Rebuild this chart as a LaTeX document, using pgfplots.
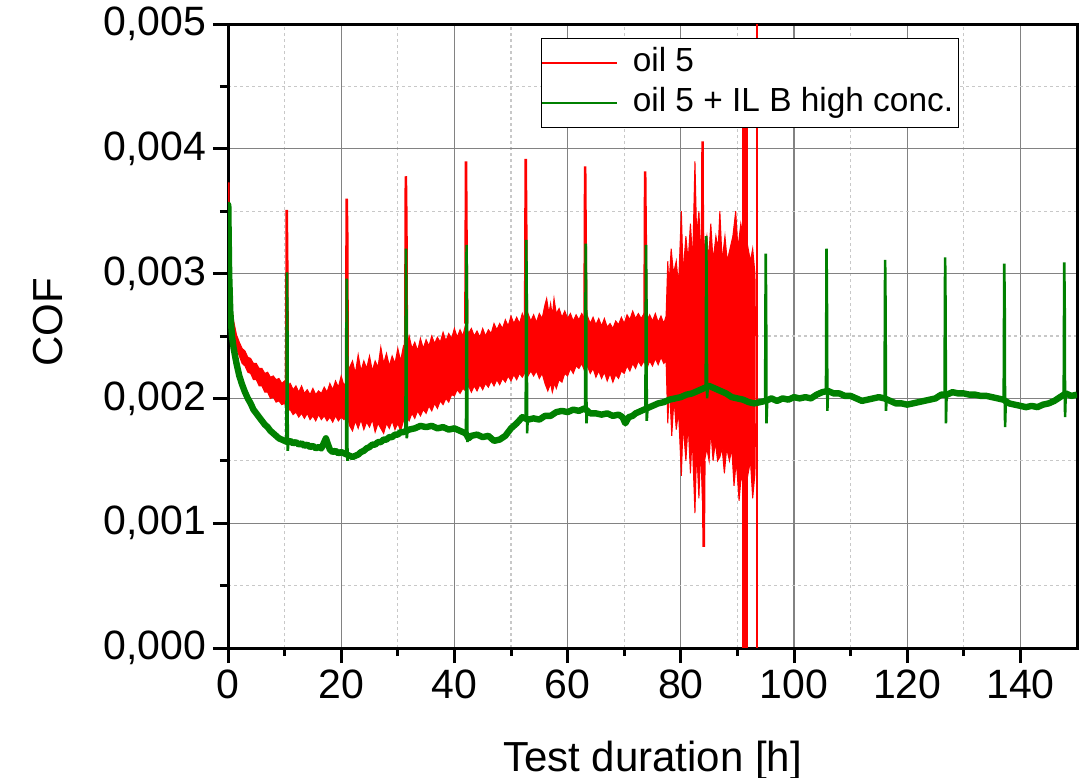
\documentclass[border=0pt]{standalone}
\usepackage{fontspec}
\setmainfont{Liberation Sans}
\usepackage{pgfplots}
\pgfplotsset{compat=1.18}
\usepgfplotslibrary{fillbetween}
\definecolor{cred}{RGB}{255,0,0}
\definecolor{cgreen}{RGB}{0,128,0}
\definecolor{majgrid}{RGB}{130,130,130}
\definecolor{mingrid}{RGB}{200,200,200}
\begin{document}
\begin{tikzpicture}
\begin{axis}[
  at={(0,0)}, anchor=south west,
  scale only axis, width=424.5bp, height=312bp,
  xmin=0, xmax=150, ymin=0, ymax=0.005,
  xtick={0,20,40,60,80,100,120,140}, minor x tick num=1,
  xticklabels={0,20,40,60,80,100,120,140},
  ytick={0,0.001,0.002,0.003,0.004,0.005}, minor y tick num=1,
  yticklabels={{0,000},{0,001},{0,002},{0,003},{0,004},{0,005}},
  scaled y ticks=false,
  tick align=outside, xtick pos=bottom, ytick pos=left,
  major tick length=7.5bp, minor tick length=4bp,
  every tick/.style={black, line width=1.5bp},
  axis line style={line width=1.5bp},
  grid=both,
  major grid style={majgrid, line width=0.6bp},
  minor grid style={mingrid, line width=0.6bp, dash pattern=on 1.5bp off 1.5bp},
  tick label style={font=\fontsize{20.5bp}{24bp}\selectfont},
  xlabel={Test duration [h]}, ylabel={COF},
  xlabel style={font=\fontsize{21bp}{25bp}\selectfont, at={(axis description cs:0.5,-0.1987)}, anchor=base},
  ylabel style={font=\fontsize{21bp}{25bp}\selectfont, at={(axis description cs:-0.1955,0.522)}, anchor=base},
  legend style={at={(axis description cs:0.3687,0.9776)}, anchor=north west, draw=black, line width=0.6bp, fill=white,
    font=\fontsize{16.7bp}{20bp}\selectfont, inner xsep=0bp, inner ysep=2.25bp, row sep=0bp,
    nodes={inner xsep=2.5bp, inner ysep=2bp, text height=12.3bp, text depth=3.7bp},
    /tikz/every odd column/.append style={column sep=5bp}},
  legend cell align=left,
  legend image code/.code={\draw[#1] (0bp,0bp) -- (37.5bp,0bp);},
]
% ---- oil 5 : upper envelope of the noise band
\addplot[name path=ru, cred, line width=0.5bp, forget plot] coordinates {
(0,0.0030)(0.2,0.0031)(0.35,0.0029)(0.6,0.00275)(1,0.00262)(1.5,0.00251)(2,0.00245)(2.5,0.0024)(3,0.00238)(3.5,0.00233)(4,0.00232)(4.5,0.00228)(5,0.00228)(5.5,0.00224)(6,0.00224)(6.5,0.0022)(7,0.00221)(7.5,0.00217)(8,0.00218)(8.5,0.00215)(9,0.00216)(9.5,0.00212)(10,0.00214)(10.5,0.0021)(11,0.00212)(11.5,0.00207)(12,0.0021)(12.5,0.00205)(13,0.0021)(13.5,0.00204)(14,0.00207)(14.5,0.00203)(15,0.00208)(15.5,0.00203)(16,0.00206)(16.5,0.00204)(17,0.00209)(17.5,0.00205)(18,0.00212)(18.5,0.00207)(19,0.00214)(19.5,0.00209)(20,0.00218)(20.5,0.0021)(21,0.00215)(21.5,0.00225)(22,0.0023)(22.5,0.0022)(23,0.00235)(23.5,0.00222)(24,0.0023)(24.5,0.00224)(25,0.00234)(25.5,0.00222)(26,0.0023)(26.5,0.00225)(27,0.00241)(27.5,0.00228)(28,0.00236)(28.5,0.00226)(29,0.00234)(29.5,0.00228)(30,0.0024)(30.5,0.0023)(31,0.00242)(31.5,0.00238)(32,0.0025)(32.5,0.0024)(33,0.00245)(33.5,0.00238)(34,0.00248)(34.5,0.0024)(35,0.00247)(35.5,0.00242)(36,0.0025)(36.5,0.00244)(37,0.00249)(37.5,0.00245)(38,0.00253)(38.5,0.00246)(39,0.00252)(39.5,0.00248)(40,0.00256)(40.5,0.00249)(41,0.00255)(41.5,0.0025)(42,0.0026)(42.5,0.00252)(43,0.00256)(43.5,0.0025)(44,0.00254)(44.5,0.00249)(45,0.00256)(45.5,0.0025)(46,0.00255)(46.5,0.00252)(47,0.0026)(47.5,0.00255)(48,0.0026)(48.5,0.00256)(49,0.00263)(49.5,0.00258)(50,0.00266)(50.5,0.0026)(51,0.00265)(51.5,0.0026)(52,0.00268)(52.5,0.00262)(53,0.00268)(53.5,0.00262)(54,0.00267)(54.5,0.00261)(55,0.00268)(55.5,0.00264)(56,0.00275)(56.3,0.0028)(56.7,0.00268)(57,0.00276)(57.3,0.00266)(57.6,0.0028)(58,0.00268)(58.5,0.00272)(59,0.00265)(59.5,0.0027)(60,0.00264)(60.5,0.00268)(61,0.00262)(61.5,0.00267)(62,0.00263)(62.5,0.00268)(63,0.00264)(63.5,0.00266)(64,0.0026)(64.5,0.00265)(65,0.00259)(65.5,0.00264)(66,0.00258)(66.5,0.00264)(67,0.00257)(67.5,0.0026)(68,0.00256)(68.5,0.00262)(69,0.00259)(69.5,0.00265)(70,0.0026)(70.5,0.00267)(71,0.00263)(71.5,0.0027)(72,0.00264)(72.5,0.00268)(73,0.00264)(73.5,0.00268)(74,0.00262)(74.5,0.00267)(75,0.00262)(75.5,0.00268)(76,0.00261)(76.5,0.00266)(77,0.0026)(77.4,0.00266)
(77.7,0.0031)(77.9,0.0029)(78.3,0.0032)(78.7,0.003)(79.2,0.0031)(79.6,0.0029)(80.1,0.0035)(80.4,0.003)(80.9,0.0033)(81.3,0.0031)(81.7,0.0034)(82.1,0.0031)(82.5,0.0039)(82.8,0.0033)(83.2,0.0035)(83.5,0.0032)(83.9,0.0034)(84.2,0.0032)(84.6,0.0033)(84.9,0.0031)(85.3,0.0034)(85.7,0.0031)(86.2,0.0033)(86.6,0.0032)(86.9,0.0035)(87.3,0.0031)(87.8,0.0033)(88.2,0.0031)(88.7,0.0032)(89.2,0.0033)(89.7,0.0035)(90.1,0.0032)(90.6,0.0034)(91,0.0033)(91.5,0.0033)(91.9,0.0032)(92.3,0.0031)(92.7,0.0032)(93.1,0.003)(93.2,0.0025)
};
% ---- oil 5 : lower envelope of the noise band
\addplot[name path=rl, cred, line width=0.5bp, forget plot] coordinates {
(0,0.0029)(0.2,0.0029)(0.35,0.00275)(0.6,0.0026)(1,0.0025)(1.5,0.0024)(2,0.00234)(2.5,0.00228)(3,0.00226)(3.5,0.00221)(4,0.0022)(4.5,0.00215)(5,0.00215)(5.5,0.0021)(6,0.0021)(6.5,0.00205)(7,0.00205)(7.5,0.002)(8,0.00201)(8.5,0.00197)(9,0.00198)(9.5,0.00195)(10,0.00196)(10.5,0.0019)(11,0.00191)(11.5,0.00187)(12,0.00189)(12.5,0.00185)(13,0.00188)(13.5,0.00184)(14,0.00188)(14.5,0.00183)(15,0.00186)(15.5,0.00182)(16,0.00187)(16.5,0.00183)(17,0.00186)(17.5,0.00182)(18,0.00185)(18.5,0.00181)(19,0.00186)(19.5,0.00182)(20,0.00185)(20.5,0.00183)(21,0.00187)(21.5,0.00178)(22,0.00174)(22.5,0.00182)(23,0.00176)(23.5,0.00183)(24,0.00175)(24.5,0.00181)(25,0.00177)(25.5,0.00183)(26,0.00173)(26.5,0.0018)(27,0.00176)(27.5,0.00172)(28,0.0018)(28.5,0.00176)(29,0.00182)(29.5,0.00175)(30,0.0018)(30.5,0.00174)(31,0.00182)(31.5,0.00186)(32,0.00182)(32.5,0.00188)(33,0.00184)(33.5,0.0019)(34,0.00186)(34.5,0.00191)(35,0.00188)(35.5,0.00194)(36,0.0019)(36.5,0.00196)(37,0.00192)(37.5,0.00198)(38,0.00195)(38.5,0.002)(39,0.00197)(39.5,0.00203)(40,0.00202)(40.5,0.00207)(41,0.00204)(41.5,0.00208)(42,0.00206)(42.5,0.0021)(43,0.00205)(43.5,0.0021)(44,0.00206)(44.5,0.00211)(45,0.00207)(45.5,0.00212)(46,0.00209)(46.5,0.00214)(47,0.0021)(47.5,0.00215)(48,0.00211)(48.5,0.00216)(49,0.00213)(49.5,0.00218)(50,0.00214)(50.5,0.00219)(51,0.00215)(51.5,0.0022)(52,0.00217)(52.5,0.00221)(53,0.00218)(53.5,0.00222)(54,0.00218)(54.5,0.00222)(55,0.00216)(55.5,0.0022)(56,0.00212)(56.5,0.00206)(57,0.00212)(57.3,0.00205)(57.7,0.00212)(58,0.00208)(58.5,0.00215)(59,0.00213)(59.5,0.0022)(60,0.00218)(60.5,0.00224)(61,0.0022)(61.5,0.00226)(62,0.00224)(62.5,0.00228)(63,0.00222)(63.5,0.00226)(64,0.0022)(64.5,0.00224)(65,0.00217)(65.5,0.00222)(66,0.00216)(66.5,0.00221)(67,0.00214)(67.5,0.0022)(68,0.00213)(68.5,0.00219)(69,0.00216)(69.5,0.00222)(70,0.0022)(70.5,0.00226)(71,0.00222)(71.5,0.00228)(72,0.00224)(72.5,0.0023)(73,0.00226)(73.5,0.0023)(74,0.00224)(74.5,0.0023)(75,0.00226)(75.5,0.00232)(76,0.00227)(76.5,0.00233)(77,0.00228)(77.4,0.0023)
(77.7,0.0018)(78.0,0.0021)(78.4,0.0017)(78.8,0.002)(79.2,0.00175)(79.6,0.0019)(80.1,0.00138)(80.4,0.0018)(80.9,0.0015)(81.3,0.0018)(81.7,0.0014)(82.0,0.0017)(82.5,0.00108)(82.8,0.0016)(83.2,0.0012)(83.5,0.0016)(83.9,0.0011)(84.2,0.0015)(84.6,0.0016)(85.0,0.0015)(85.3,0.00175)(85.7,0.0015)(86.1,0.00165)(86.5,0.0015)(86.9,0.00153)(87.3,0.0016)(87.7,0.0014)(88.1,0.0016)(88.6,0.0015)(89,0.0016)(89.4,0.0013)(89.8,0.0015)(90.3,0.00118)(90.7,0.0014)(91,0.0013)(91.5,0.0013)(91.9,0.0014)(92.3,0.0015)(92.7,0.0012)(93.1,0.0014)(93.2,0.0018)
};
\addplot[cred, forget plot] fill between[of=ru and rl];
% ---- oil 5 : spikes
\addplot[cred, line width=1.3bp, unbounded coords=jump, forget plot] coordinates {
(0,0.0029)(0.04,0.00373)(0.15,0.003)(0.2,nan)
(10.28,0.0021)(10.38,0.00351)(10.48,0.003)(10.55,0.0021)(10.6,nan)
(20.87,0.0021)(20.97,0.0036)(21.07,0.0033)(21.15,0.0021)(21.2,nan)
(31.32,0.0024)(31.42,0.00378)(31.52,0.0034)(31.6,0.0024)(31.7,nan)
(41.95,0.0026)(42.05,0.0039)(42.15,0.0032)(42.25,0.0026)(42.3,nan)
(52.5,0.0026)(52.6,0.00392)(52.7,0.0033)(52.8,0.0026)(52.9,nan)
(63.0,0.0026)(63.1,0.00386)(63.2,0.0032)(63.3,0.0026)(63.4,nan)
(73.6,0.0026)(73.7,0.00382)(73.8,0.0033)(73.9,0.0026)(74,nan)
(83.75,0.003)(83.85,0.00406)(83.95,0.0013)(84.05,0.00081)(84.15,0.0015)
};
\addplot[cred, line width=3bp, forget plot] coordinates {(91.3,0)(91.3,0.0048)};
\addplot[cred, line width=0.6bp, forget plot] coordinates {(93.45,0)(93.45,0.0052)};
% ---- oil 5 + IL B high conc.
\addplot[cgreen, line width=3.2bp, line join=round, forget plot] coordinates {
(0,0.0031)(0.05,0.00355)(0.2,0.003)(0.4,0.0027)(0.7,0.0025)(1,0.0024)(1.5,0.00228)(2,0.00218)(2.5,0.00211)(3,0.00205)(3.5,0.002)(4,0.00196)(4.5,0.00191)(5,0.00188)(5.5,0.00185)(6,0.00182)(6.5,0.00179)(7,0.00177)(7.5,0.00174)(8,0.00172)(8.5,0.0017)(9,0.00168)(9.5,0.00167)(10,0.00166)(10.5,0.00165)(11,0.00166)(11.5,0.00164)(12,0.00165)(12.5,0.00163)(13,0.00164)(13.5,0.00162)(14,0.00163)(14.5,0.00161)(15,0.00162)(15.5,0.0016)(16,0.00161)(16.5,0.0016)(17,0.00165)(17.3,0.00168)(17.6,0.00164)(18,0.00159)(18.5,0.00157)(19,0.00158)(19.5,0.00156)(20,0.00157)(20.5,0.00156)(21,0.00155)(21.5,0.00154)(22,0.00153)(22.5,0.00154)(23,0.00155)(23.5,0.00157)(24,0.00158)(24.5,0.0016)(25,0.00161)(25.5,0.00163)(26,0.00163)(26.5,0.00165)(27,0.00165)(27.5,0.00167)(28,0.00167)(28.5,0.00169)(29,0.00169)(29.5,0.00171)(30,0.00171)(30.5,0.00173)(31,0.00173)(31.5,0.00174)(32,0.00175)(33,0.00176)(34,0.00178)(35,0.00177)(36,0.00178)(37,0.00176)(38,0.00177)(39,0.00175)(40,0.00176)(41,0.00174)(42,0.00172)(42.5,0.00168)(43,0.0017)(44,0.00171)(45,0.00169)(46,0.0017)(47,0.00166)(48,0.00167)(49,0.0017)(50,0.00176)(51,0.0018)(52,0.00185)(53,0.00183)(54,0.00184)(55,0.00183)(56,0.00186)(57,0.00186)(58,0.00189)(59,0.0019)(60,0.00189)(61,0.00191)(62,0.0019)(63,0.00192)(64,0.00188)(65,0.00188)(66,0.00187)(67,0.00188)(68,0.00186)(69,0.00187)(69.7,0.00185)(70.2,0.0018)(70.8,0.00185)(71.5,0.00186)(72,0.00188)(73,0.0019)(74,0.00192)(75,0.00194)(76,0.00196)(77,0.00197)(78,0.00199)(79,0.002)(80,0.00201)(81,0.00203)(82,0.00204)(83,0.00206)(84,0.00208)(85,0.0021)(86,0.00208)(87,0.00206)(88,0.00204)(89,0.00201)(90,0.002)(91,0.00199)(92,0.00197)(93,0.00196)(94,0.00197)(95,0.00198)(96,0.002)(97,0.00198)(98,0.002)(99,0.00199)(100,0.00201)(101,0.002)(102,0.00201)(103,0.002)(104,0.00203)(105,0.00205)(106,0.00206)(107,0.00204)(108,0.00204)(109,0.00202)(110,0.00202)(111,0.002)(112,0.00198)(113,0.00199)(114,0.002)(115,0.00201)(116,0.002)(117,0.00198)(118,0.00196)(119,0.00196)(120,0.00195)(121,0.00196)(122,0.00197)(123,0.00198)(124,0.00199)(125,0.002)(126,0.00203)(127,0.00203)(128,0.00205)(129,0.00204)(130,0.00204)(131,0.00203)(132,0.00203)(133,0.00202)(134,0.00202)(135,0.00201)(136,0.002)(137,0.00199)(138,0.00196)(139,0.00195)(140,0.00194)(141,0.00193)(142,0.00194)(143,0.00193)(144,0.00195)(145,0.00196)(146,0.00198)(147,0.00201)(148,0.00204)(149,0.00202)(150,0.00203)
};
\addplot[cgreen, line width=1.3bp, unbounded coords=jump, forget plot] coordinates {
(10.32,0.00165)(10.42,0.00301)(10.5,0.0026)(10.56,0.00158)(10.68,0.00165)(10.7,nan)
(20.87,0.00156)(20.97,0.00296)(21.05,0.0025)(21.11,0.0015)(21.23,0.00155)(21.3,nan)
(31.35,0.00174)(31.45,0.0032)(31.53,0.0027)(31.59,0.00168)(31.71,0.00174)(31.8,nan)
(42.05,0.00172)(42.15,0.00323)(42.23,0.0027)(42.29,0.00165)(42.41,0.00169)(42.5,nan)
(52.6,0.00185)(52.7,0.00327)(52.78,0.0028)(52.84,0.00172)(52.96,0.00184)(53,nan)
(63.1,0.00191)(63.2,0.00324)(63.28,0.0028)(63.34,0.0018)(63.46,0.0019)(63.5,nan)
(73.75,0.00191)(73.85,0.00323)(73.93,0.0028)(73.99,0.00182)(74.11,0.00192)(74.2,nan)
(84.4,0.00208)(84.5,0.0033)(84.58,0.0028)(84.64,0.002)(84.76,0.00209)(84.8,nan)
(94.9,0.00198)(95,0.00316)(95.08,0.0027)(95.14,0.0018)(95.26,0.00198)(95.3,nan)
(105.65,0.00205)(105.75,0.0032)(105.83,0.0027)(105.89,0.0019)(106.01,0.00206)(106.1,nan)
(116,0.002)(116.1,0.00311)(116.18,0.0027)(116.24,0.0019)(116.36,0.00199)(116.4,nan)
(126.6,0.00203)(126.7,0.00313)(126.78,0.0027)(126.84,0.0018)(126.96,0.00203)(127,nan)
(137.05,0.00199)(137.15,0.00308)(137.23,0.0027)(137.29,0.00177)(137.41,0.00197)(137.5,nan)
(147.65,0.00201)(147.75,0.00309)(147.83,0.0027)(147.89,0.00185)(148.01,0.00204)
};
\addlegendimage{cred, line width=0.6bp}
\addlegendentry{oil 5}
\addlegendimage{cgreen, line width=0.6bp}
\addlegendentry{oil 5 + IL B high conc.}
\end{axis}
\pgfresetboundingbox
\useasboundingbox (-114bp,-65bp) rectangle (428bp,324bp);
\end{tikzpicture}
\end{document}
